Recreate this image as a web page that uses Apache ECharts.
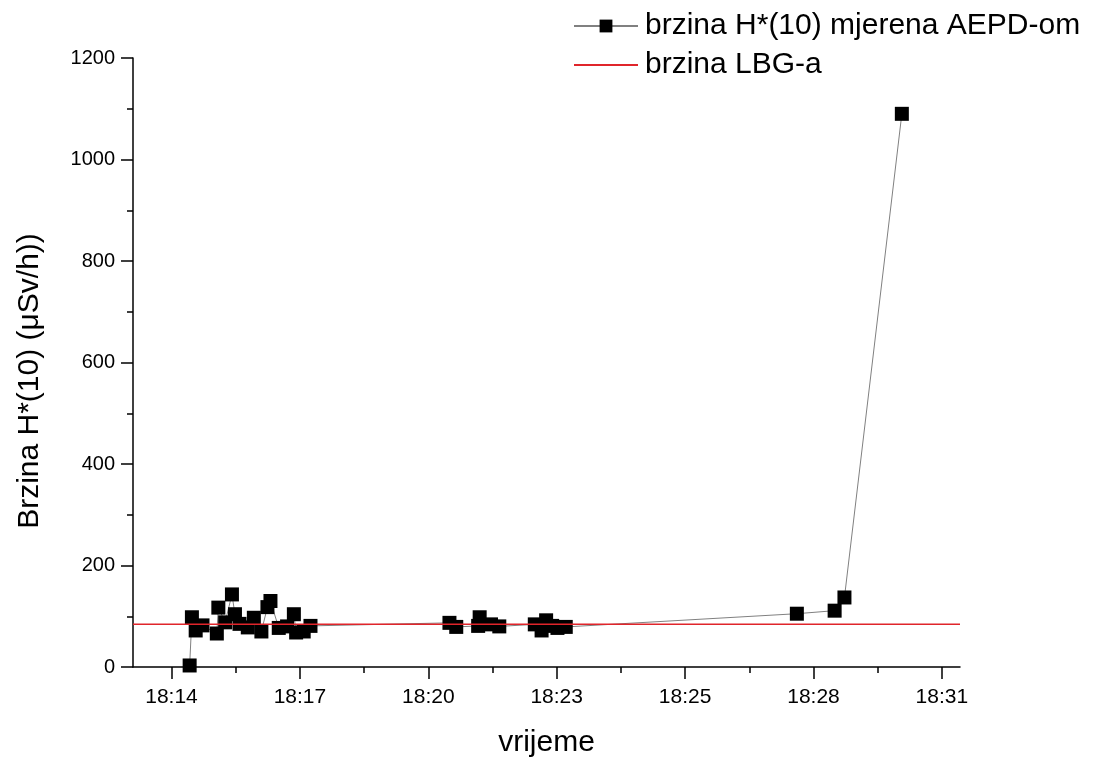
<!DOCTYPE html>
<html>
<head>
<meta charset="utf-8">
<script src="https://cdn.jsdelivr.net/npm/echarts@6/dist/echarts.min.js"></script>
<style>
html, body { margin: 0; padding: 0; background: #fff; }
#chart { width: 1094px; height: 763px; }
</style>
</head>
<body>
<div id="chart"></div>
<script>
// vrijeme mjerenja (hh:mm:ss)
var times = ['18:14:24','18:14:27','18:14:32','18:14:41','18:15:00','18:15:02','18:15:11','18:15:20','18:15:24','18:15:30',
    '18:15:41','18:15:49','18:15:59','18:16:07','18:16:11','18:16:22','18:16:33','18:16:42','18:16:45','18:16:55',
    '18:17:04','18:20:08','18:20:17','18:20:46','18:20:48','18:21:03','18:21:14','18:22:01','18:22:10','18:22:16',
    '18:22:24','18:22:31','18:22:42','18:27:48','18:28:38','18:28:51','18:30:07']
// brzina H*(10) (uSv/h)
var doseRate = [3,98,72,82,66,117,88,143,104,85,
    78,97,70,118,130,77,80,104,68,70,
    81,87,79,81,98,84,80,84,72,92,
    81,77,79,105,111,137,1090]
var lbgRate = 84
// os x
var axisStart = '18:13:09'
var axisEnd = '18:31:24'
var tickTimes = ['18:14:00','18:16:50','18:19:40','18:22:30','18:25:20','18:28:10','18:31:00']
var tickLabels = ['18:14','18:17','18:20','18:23','18:25','18:28','18:31']

function toSec(str) {
    var p = str.split(':')
    return parseInt(p[0]) * 3600 + parseInt(p[1]) * 60 + parseInt(p[2])
}

var xMin = toSec(axisStart)
var xMax = toSec(axisEnd)
var majorTicks = tickTimes.map(toSec)
var minorTicks = []
for (var i = 0; i < majorTicks.length - 1; i++) {
    minorTicks.push((majorTicks[i] + majorTicks[i + 1]) / 2)
}

var points = times.map(function (t, i) { return [toSec(t), doseRate[i]] })
var lbgLine = [[xMin, lbgRate], [xMax, lbgRate]]

var font = "'Liberation Sans', Arial, sans-serif"
var chart = echarts.init(document.getElementById('chart'))
var option = {
    animation: false,
    grid: { left: 133, top: 58, width: 827, height: 611.5 },
    graphic: [{
        // naslov osi y
        type: 'text',
        x: 30,
        y: 381,
        rotation: Math.PI / 2,
        style: {
            text: 'Brzina H*(10) (\u03bcSv/h))',
            font: "30px 'Liberation Sans', Arial, sans-serif",
            fill: '#000',
            align: 'center',
            verticalAlign: 'middle'
        }
    }],
    legend: {
        orient: 'vertical',
        left: 568,
        top: 5,
        itemWidth: 64,
        itemHeight: 16,
        itemGap: 7,
        textStyle: { fontFamily: font, fontSize: 30, color: '#000', lineHeight: 32, padding: [0, 0, 0, 2] },
        data: [
            { name: 'brzina H*(10) mjerena AEPD-om' },
            { name: 'brzina LBG-a', itemStyle: { opacity: 0 } }
        ]
    },
    xAxis: [{
        type: 'value',
        min: xMin,
        max: xMax,
        name: 'vrijeme',
        nameLocation: 'middle',
        nameGap: 61,
        nameTextStyle: { fontFamily: font, fontSize: 30, color: '#000' },
        splitLine: { show: false },
        axisLine: { lineStyle: { color: '#000', width: 1.5 } },
        axisTick: { show: true, length: 12, customValues: majorTicks, lineStyle: { color: '#000', width: 1.5 } },
        axisLabel: {
            customValues: majorTicks,
            margin: 20,
            fontFamily: "'Liberation Sans Narrow', 'Liberation Sans', Arial, sans-serif",
            fontSize: 21,
            color: '#000',
            formatter: function (v) {
                var idx = majorTicks.indexOf(v)
                return idx >= 0 ? tickLabels[idx] : ''
            }
        }
    }, {
        type: 'value',
        min: xMin,
        max: xMax,
        position: 'bottom',
        splitLine: { show: false },
        axisLine: { show: false },
        axisTick: { show: true, length: 6, customValues: minorTicks, lineStyle: { color: '#000', width: 1.5 } },
        axisLabel: { show: false }
    }],
    yAxis: {
        type: 'value',
        min: 0,
        max: 1200,
        interval: 200,
        splitLine: { show: false },
        axisLine: { show: true, lineStyle: { color: '#000', width: 1.5 } },
        axisTick: { show: true, length: 12, lineStyle: { color: '#000', width: 1.5 } },
        minorTick: { show: true, splitNumber: 2, length: 6, lineStyle: { color: '#000', width: 1.5 } },
        axisLabel: {
            margin: 18, fontFamily: font, fontSize: 20, color: '#000',
            formatter: function (v) { return String(v) }
        }
    },
    series: [{
        name: 'brzina H*(10) mjerena AEPD-om',
        type: 'line',
        data: points,
        symbol: 'rect',
        symbolSize: 14,
        itemStyle: { color: '#000' },
        lineStyle: { color: '#808080', width: 1 },
        z: 2
    }, {
        name: 'brzina LBG-a',
        type: 'line',
        data: lbgLine,
        symbol: 'none',
        itemStyle: { color: '#e0252b' },
        lineStyle: { color: '#e0252b', width: 1.5 },
        z: 3
    }]
}
chart.setOption(option)
</script>
</body>
</html>
